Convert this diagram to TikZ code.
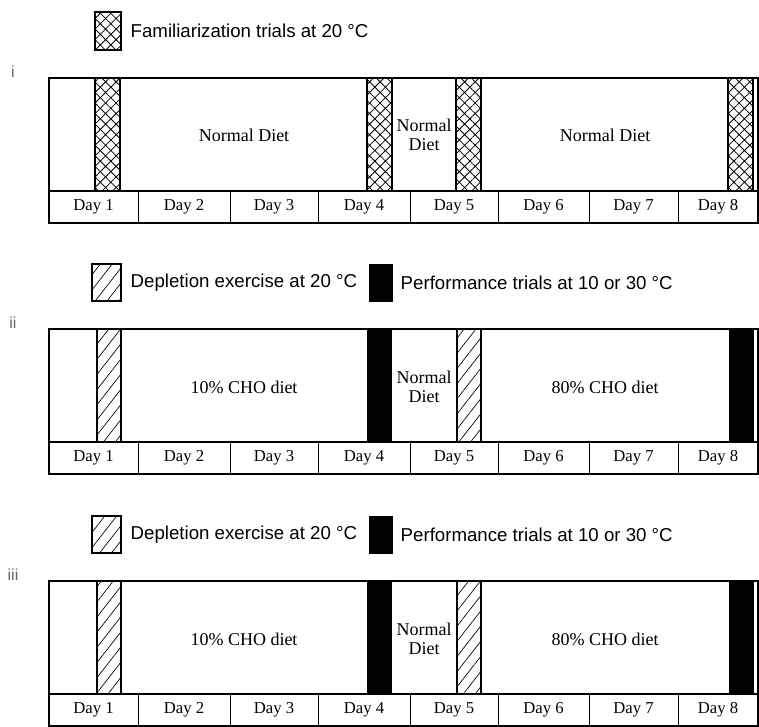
\documentclass[tikz,border=0pt]{standalone}
\usepackage{fontspec}
\setmainfont{Liberation Serif}
\setsansfont{Liberation Sans}
\usetikzlibrary{patterns.meta}

\begin{document}
\begin{tikzpicture}[x=0.75pt, y=-0.75pt,
  frame/.style={line width=1.1pt},
  cell/.style={line width=0.7pt},
  famil/.style={draw, line width=1.1pt, pattern={Hatch[angle=45,distance=5.6pt,line width=0.6pt]}},
  deplete/.style={draw, line width=1.1pt, pattern={Lines[angle=52,distance=7pt,line width=0.5pt]}},
  perform/.style={draw, fill=black},
  daylbl/.style={font=\fontsize{12.5}{14}\selectfont},
  dietlbl/.style={font=\fontsize{13.5}{14}\selectfont, align=center},
  keylbl/.style={font=\sffamily\fontsize{14}{16}\selectfont, anchor=west},
  tag/.style={font=\sffamily\fontsize{12}{14}\selectfont, text=black!60}]

  \useasboundingbox (0,0) rectangle (759,726);

  % frame and day row of each schedule
  \foreach \top/\pn in {78/i,329/ii,581/iii} {
    \begin{scope}[shift={(0,\top)}]
      \node[tag] (tag-\pn) at (13,-6) {\pn};
      \draw[frame] (49,0) rectangle (758,145);
      \draw[frame] (49,113) -- (758,113);
      \foreach \a/\b [count=\n] in {49/138,138/230,230/318,318/410,410/498,498/589,589/678,678/758} {
        \draw[cell] (\b,113) -- (\b,145);
        \node[daylbl] (day\n-\pn) at ({(\a+\b)/2},129) {Day \n};}
    \end{scope}}

  % i: familiarization
  \begin{scope}[shift={(0,78)}]
    \path[famil] (95,-66) rectangle (121,-28);
    \node[keylbl] (key-famil) at (126,-47) {Familiarization trials at 20 °C};
    \foreach \x in {95,367,456,728}
      \path[famil] (\x,0) rectangle ++(25,113);
    \node[dietlbl] (diet-a-i) at (244,57) {Normal Diet};
    \node[dietlbl] (diet-b-i) at (424,57) {Normal\\Diet};
    \node[dietlbl] (diet-c-i) at (605,57) {Normal Diet};
  \end{scope}

  % ii and iii: depletion, diet, performance
  \foreach \top/\pn in {329/ii,581/iii} {
    \begin{scope}[shift={(0,\top)}]
      \path[deplete] (92,-65) rectangle (121,-28);
      \node[keylbl] (key-deplete-\pn) at (126,-46) {Depletion exercise at 20 °C};
      \path[perform] (369,-65) rectangle (392,-28);
      \node[keylbl] (key-perform-\pn) at (396,-46) {Performance trials at 10 or 30 °C};
      \foreach \x in {97,457}
        \path[deplete] (\x,0) rectangle ++(24,113);
      \foreach \x in {367,729}
        \path[perform] (\x,0) rectangle ++(24,113);
      \node[dietlbl] (diet-a-\pn) at (244,58) {10\% CHO diet};
      \node[dietlbl] (diet-b-\pn) at (424,58) {Normal\\Diet};
      \node[dietlbl] (diet-c-\pn) at (605,58) {80\% CHO diet};
    \end{scope}}
\end{tikzpicture}
\end{document}
